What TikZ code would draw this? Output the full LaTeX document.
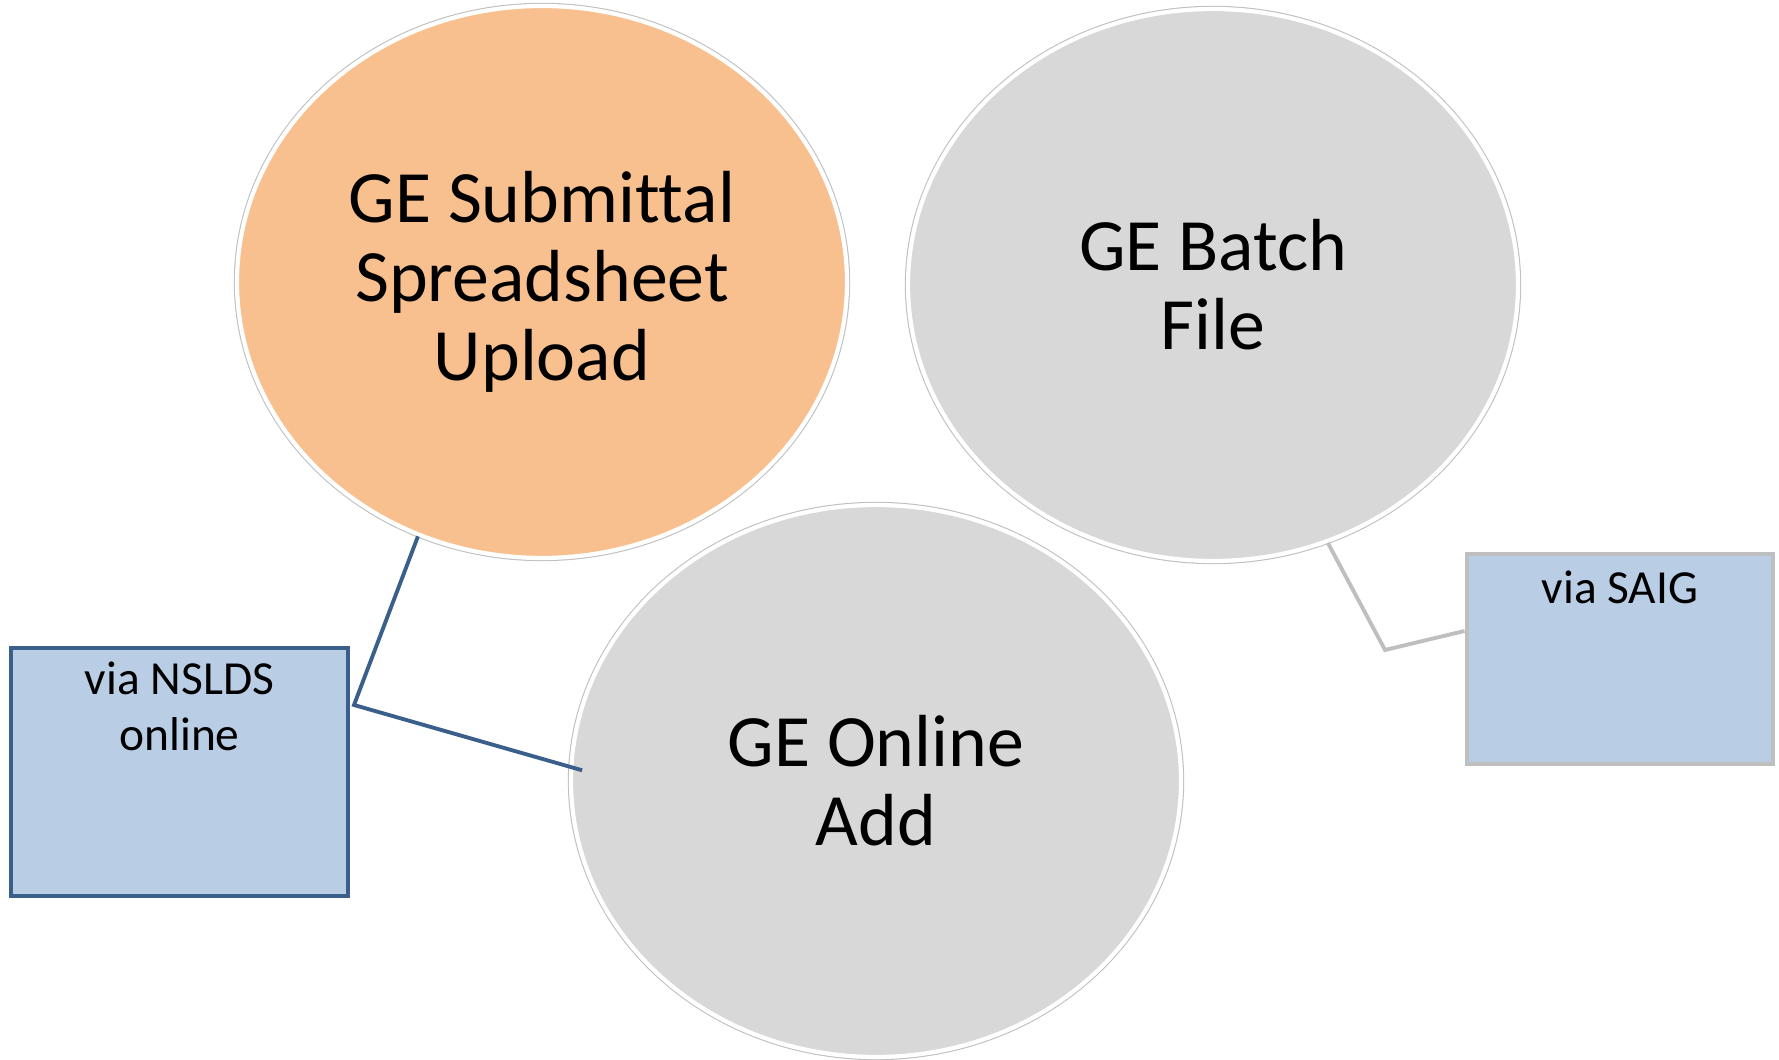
\documentclass[tikz,border=0pt]{standalone}
\usepackage{fontspec}
\setmainfont{Carlito}[Ligatures=NoCommon]
\usepackage{tikz}
\usetikzlibrary{shapes.geometric}

\definecolor{peach}{RGB}{249,192,143}
\definecolor{lightgrey}{RGB}{216,216,216}
\definecolor{paleblue}{RGB}{185,205,229}
\definecolor{darkblue}{RGB}{58,95,139}
\definecolor{edgegrey}{RGB}{191,191,191}

\begin{document}
\begin{tikzpicture}[line width=0.2mm,
  bubble/.style={ellipse,inner sep=0pt,minimum width=6.1cm,minimum height=5.52cm,
    align=center,font=\fontsize{21}{22.5}\selectfont,draw=white,line width=1.2pt,
    preaction={draw=black!25,line width=1.8pt}},
  tagbox/.style={rectangle,inner sep=0pt,line width=1.2pt},
  tagtext/.style={anchor=north,align=center,inner sep=0pt,font=\fontsize{13.5}{16}\selectfont}]

\useasboundingbox (0,0) rectangle (17.79,10.6);

% the three bubbles
\node[bubble,fill=peach] (upload) at (5.42,7.78) {GE Submittal\\Spreadsheet\\Upload};
\node[bubble,fill=lightgrey] (batch) at (12.13,7.75) {GE Batch\\File};
\node[bubble,fill=lightgrey] (online) at (8.76,2.79) {GE Online\\Add};

% call-out boxes
\node[tagbox,fill=paleblue,draw=darkblue,minimum width=3.37cm,minimum height=2.48cm] (nslds) at (1.795,2.88) {};
\node[tagtext] (nsldstext) at ([yshift=-0.15cm]nslds.north) {via NSLDS\\online};

\node[tagbox,fill=paleblue,draw=edgegrey,line width=1.4pt,minimum width=3.06cm,minimum height=2.10cm] (saig) at (16.20,4.01) {};
\node[tagtext] (saigtext) at ([yshift=-0.18cm]saig.north) {via SAIG};

% connectors
\coordinate (nsldsbend) at (3.54,3.55);
\coordinate (saigbend) at (13.85,4.10);

\draw[darkblue,line width=1.1pt] (upload.244) -- (nsldsbend) -- ([xshift=0.13cm]online.178);
\draw[edgegrey,line width=1.1pt] (batch.294) -- (saigbend) -- ([yshift=0.28cm]saig.west);

\end{tikzpicture}
\end{document}
